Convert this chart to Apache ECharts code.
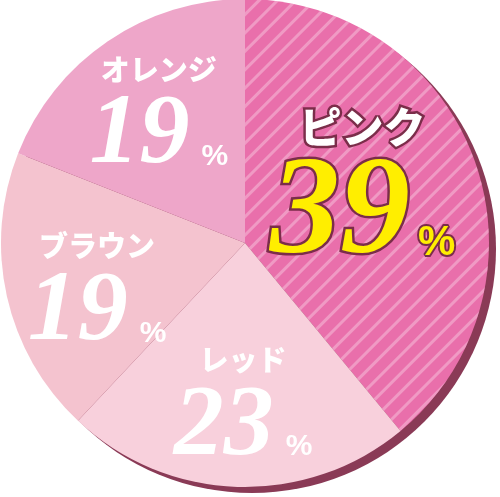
<!DOCTYPE html>
<html>
<head>
<meta charset="utf-8">
<script src="https://cdn.jsdelivr.net/npm/echarts@6/dist/echarts.min.js"></script>
<style>
html,body{margin:0;padding:0;background:#fff;}
#c{width:500px;height:497px;}
</style>
</head>
<body>
<div id="c"></div>
<script>
const categories = ['ピンク', 'レッド', 'ブラウン', 'オレンジ'];
const values = [39, 23, 19, 19];

const sliceColors = ['#e96fab', '#f8d0dc', '#f4c3cf', '#eea6c9'];
const labelOffsets = [[0, -7], [2, 42], [-26, 26], [-16, -20]];
const outline = '#7b2d4a';
const numFont = "'Liberation Serif', serif";
const jpFont = "'Noto Sans CJK JP', sans-serif";
const pctFont = "'Liberation Sans', sans-serif";

const chart = echarts.init(document.getElementById('c'));

const whiteRich = {
  n: { color: '#fff', fontFamily: jpFont, fontWeight: 900, fontSize: 29, lineHeight: 34, align: 'center' },
  v: { color: '#fff', fontFamily: numFont, fontStyle: 'italic', fontWeight: 'bold', fontSize: 100, lineHeight: 100, verticalAlign: 'bottom' },
  p: { color: '#fff', fontFamily: pctFont, fontWeight: 'bold', fontSize: 30, verticalAlign: 'bottom', padding: [0, 0, 15, 12] }
};
const pinkRich = {
  n: { color: '#fff', fontFamily: jpFont, fontWeight: 900, fontSize: 42, lineHeight: 50, textBorderColor: outline, textBorderWidth: 5, align: 'center' },
  v: { color: '#ffee00', fontFamily: numFont, fontStyle: 'italic', fontWeight: 'bold', fontSize: 140, lineHeight: 134, textBorderColor: outline, textBorderWidth: 5, verticalAlign: 'bottom' },
  p: { color: '#ffee00', fontFamily: pctFont, fontWeight: 'bold', fontSize: 42, textBorderColor: outline, textBorderWidth: 4, verticalAlign: 'bottom', padding: [0, 0, 21, 8] }
};

const data = categories.map((name, i) => ({
  name: name,
  value: values[i],
  itemStyle: i === 0 ? {
    color: sliceColors[i],
    decal: {
      symbol: 'rect',
      symbolSize: 1,
      dashArrayX: [1, 0],
      dashArrayY: [2.5, 10],
      rotation: -Math.PI / 4,
      color: 'rgba(255,255,255,0.3)'
    }
  } : { color: sliceColors[i] },
  label: {
    formatter: '{n|{b}}\n{v|{c}}{p|%}',
    rich: i === 0 ? pinkRich : whiteRich
  }
}));

chart.setOption({
  backgroundColor: '#fff',
  animation: false,
  series: [
    {
      type: 'pie',
      silent: true,
      center: [252, 249],
      radius: 244,
      label: { show: false },
      labelLine: { show: false },
      itemStyle: { color: '#8a3a56' },
      data: [{ value: 1, name: '' }],
      z: 1
    },
    {
      type: 'pie',
      center: [245, 243],
      radius: 244,
      startAngle: 90,
      clockwise: true,
      avoidLabelOverlap: false,
      itemStyle: { borderWidth: 0 },
      emphasis: { disabled: true },
      label: { show: true, position: 'inside', align: 'center' },
      labelLine: { show: false },
      labelLayout: function (p) {
        const o = labelOffsets[p.dataIndex];
        return { dx: o[0], dy: o[1] };
      },
      data: data,
      z: 2
    }
  ]
});
</script>
</body>
</html>
